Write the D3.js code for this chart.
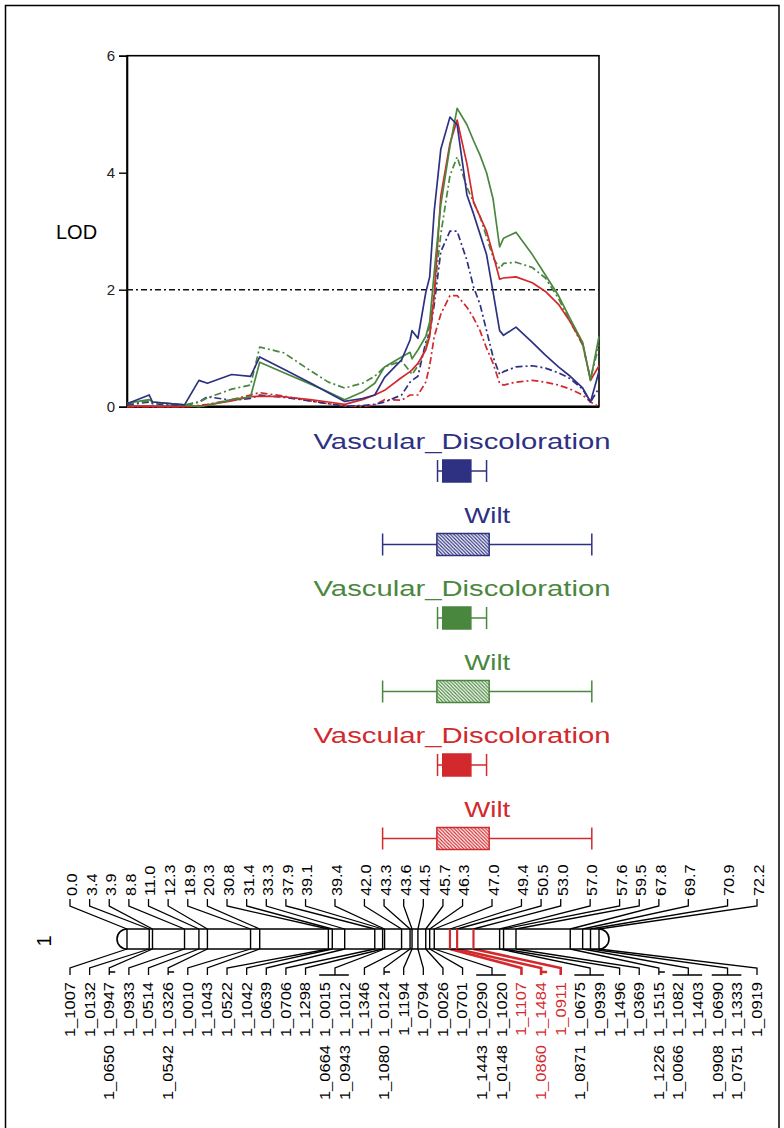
<!DOCTYPE html>
<html>
<head>
<meta charset="utf-8">
<script src="https://cdn.jsdelivr.net/npm/d3@7"></script>
<style>
  html, body { margin: 0; padding: 0; background: #fff; }
  svg { display: block; font-family: "Liberation Sans", Arial, sans-serif; }
</style>
</head>
<body>
<script>
// ---- LOD profiles along linkage group 1 (cM grid) ----
const grid = [0, 3.4, 3.9, 8.8, 11.0, 12.3, 16, 18.9, 20.3, 24, 28, 30.8, 33.3, 36, 37.9, 39.4,
  42.0, 43.3, 43.6, 44.5, 45.7, 46.3, 47.0, 48, 49.4, 50.5, 52, 53.0, 54, 55, 56, 57.0, 57.6,
  59.5, 62, 64, 66, 67.8, 69.7, 70.9, 72.2];

const vdNavy = [0.05, 0.2, 0.08, 0.03, 0.45, 0.4, 0.55, 0.52, 0.85, 0.64, 0.41, 0.24, 0.09, 0.14, 0.2, 0.5,
  0.8, 1.14, 1.3, 1.17, 1.95, 2.22, 3.35, 4.4, 4.95, 4.82, 3.62, 3.3, 2.95, 2.6, 1.96, 1.3, 1.22,
  1.36, 1.1, 0.88, 0.68, 0.52, 0.32, 0.08, 0.6];
const wiltNavy = [0.03, 0.08, 0.05, 0.02, 0.08, 0.17, 0.11, 0.14, 0.2, 0.16, 0.1, 0.05, 0.01, 0.02, 0.04, 0.08,
  0.2, 0.42, 0.45, 0.52, 1.1, 1.25, 1.75, 2.65, 3.0, 3.0, 2.5, 2.05, 1.75, 1.3, 0.85, 0.55, 0.6,
  0.68, 0.7, 0.66, 0.58, 0.48, 0.3, 0.08, 0.32];
const vdGreen = [0.06, 0.12, 0.08, 0.03, 0.0, 0.02, 0.12, 0.17, 0.76, 0.58, 0.39, 0.25, 0.12, 0.25, 0.4, 0.68,
  0.85, 0.93, 0.82, 0.97, 1.2, 1.45, 2.3, 3.45, 4.45, 5.1, 4.82, 4.55, 4.3, 4.0, 3.55, 2.73, 2.88,
  2.98, 2.6, 2.25, 1.9, 1.5, 1.1, 0.45, 1.2];
const wiltGreen = [0.05, 0.1, 0.07, 0.03, 0.08, 0.15, 0.3, 0.37, 1.02, 0.92, 0.62, 0.42, 0.32, 0.4, 0.52, 0.68,
  0.78, 0.6, 0.55, 0.7, 1.0, 1.4, 1.95, 2.95, 3.95, 4.27, 3.75, 3.5, 3.25, 2.9, 2.55, 2.36, 2.45,
  2.47, 2.38, 2.2, 1.85, 1.45, 1.05, 0.48, 1.05];
const vdRed = [0.0, 0.01, 0.0, 0.0, 0.01, 0.03, 0.1, 0.17, 0.18, 0.17, 0.12, 0.08, 0.04, 0.12, 0.2, 0.28,
  0.5, 0.6, 0.63, 0.74, 0.97, 1.2, 1.9, 3.6, 4.5, 4.9, 4.15, 3.5, 3.25, 3.0, 2.6, 2.18, 2.2,
  2.22, 2.12, 1.97, 1.75, 1.45, 1.08, 0.45, 0.7];
const wiltRed = [0.0, 0.0, 0.0, 0.0, 0.02, 0.04, 0.12, 0.2, 0.24, 0.18, 0.1, 0.05, 0.01, 0.0, 0.03, 0.12,
  0.11, 0.2, 0.2, 0.2, 0.42, 0.7, 1.2, 1.58, 1.9, 1.9, 1.7, 1.52, 1.3, 1.0, 0.74, 0.4, 0.37,
  0.42, 0.45, 0.42, 0.37, 0.3, 0.2, 0.08, 0.0];

const lodTicks = [0, 2, 4, 6];
const lodThreshold = 2;

// ---- QTL support intervals (cM): [2-LOD lo, 1-LOD lo, 1-LOD hi, 2-LOD hi] ----
const qtlTraits = ["Vascular_Discoloration", "Wilt"];
const vdInterval = [47.5, 48.3, 52.6, 55.0];
const wiltInterval = [39.1, 47.4, 55.4, 71.1];
const groupColors = ["#2e3182", "#4a873e", "#d2292d"];

// ---- Linkage map: positions (cM) and the markers at each, by label column ----
const positions = [0.0, 3.4, 3.9, 8.8, 11.0, 12.3, 18.9, 20.3, 30.8, 31.4, 33.3, 37.9, 39.1, 39.4, 42.0,
  43.3, 43.6, 44.5, 45.7, 46.3, 47.0, 49.4, 50.5, 53.0, 57.0, 57.6, 59.5, 67.8, 69.7, 70.9, 72.2];
const markers = [
  [["1_1007"]], [["1_0132"]], [["1_0947", "1_0650"]], [["1_0933"]], [["1_0514"]],
  [["1_0326", "1_0542"]], [["1_0010"]], [["1_1043"]], [["1_0522"]], [["1_1042"]],
  [["1_0639"]], [["1_0706"]], [["1_1298"]], [["1_0015", "1_0664"], ["1_1012", "1_0943"]],
  [["1_1346"]], [["1_0124", "1_1080"]], [["1_1194"]], [["1_0794"]], [["1_0026"]], [["1_0701"]],
  [["1_0290", "1_1443"], ["1_1020", "1_0148"]], [["1_1107"]], [["1_1484", "1_0860"]], [["1_0911"]],
  [["1_0675", "1_0871"], ["1_0939"]], [["1_1496"]], [["1_0369"]], [["1_1515", "1_1226"]],
  [["1_1082", "1_0066"], ["1_1403"]], [["1_0690", "1_0908"], ["1_1333", "1_0751"]], [["1_0919"]]
];
const highlighted = [49.4, 50.5, 53.0];
const chromosomeName = "1";

// ---------------------------------------------------------------
const W = 784, H = 1128;
const svg = d3.select("body").append("svg").attr("width", W).attr("height", H);
const FONT = "'Liberation Sans', Arial, sans-serif";

// outer frame
svg.append("rect").attr("x", 5.5).attr("y", 5.5).attr("width", 773.5).attr("height", 1200)
  .attr("fill", "none").attr("stroke", "#000").attr("stroke-width", 1.5);

// shared cM scale for LOD panel, QTL bars and the chromosome
const x = d3.scaleLinear().domain([0, 72.2]).range([127, 599]);
const y = d3.scaleLinear().domain([0, 6]).range([406.7, 55.7]);

// ---- LOD panel ----
const plot = svg.append("g");
plot.append("rect").attr("x", x(0)).attr("y", y(6)).attr("width", x(72.2) - x(0)).attr("height", y(0) - y(6))
  .attr("fill", "none").attr("stroke", "#000").attr("stroke-width", 1.6);
plot.append("line").attr("x1", x(0)).attr("x2", x(72.2)).attr("y1", y(0)).attr("y2", y(0))
  .attr("stroke", "#000").attr("stroke-width", 2.4);

const yAxis = d3.axisLeft(y).tickValues(lodTicks).tickSize(8).tickPadding(4).tickFormat(d3.format("d"));
const ya = plot.append("g").attr("transform", `translate(${x(0)},0)`).call(yAxis);
ya.select(".domain").attr("stroke", "#000").attr("stroke-width", 1.6);
ya.selectAll(".tick line").attr("stroke", "#000").attr("stroke-width", 1.4);
ya.selectAll(".tick text").attr("font-size", 15).attr("font-family", FONT).attr("fill", "#222");

svg.append("text").attr("x", 56).attr("y", 232).attr("dy", "0.35em")
  .attr("font-family", FONT).attr("font-size", 20).attr("fill", "#000").text("LOD");

plot.append("line").attr("x1", x(0)).attr("x2", x(72.2))
  .attr("y1", y(lodThreshold)).attr("y2", y(lodThreshold))
  .attr("stroke", "#111").attr("stroke-width", 1.6).attr("stroke-dasharray", "6,3,2,3");

const line = d3.line().x((d, i) => x(grid[i])).y(d => y(d));
const curves = [
  { v: wiltRed, c: groupColors[2], dash: true },
  { v: wiltNavy, c: groupColors[0], dash: true },
  { v: wiltGreen, c: groupColors[1], dash: true },
  { v: vdRed, c: groupColors[2], dash: false },
  { v: vdGreen, c: groupColors[1], dash: false },
  { v: vdNavy, c: groupColors[0], dash: false }
];
plot.selectAll("path.lod").data(curves).join("path").attr("class", "lod")
  .attr("d", d => line(d.v)).attr("fill", "none").attr("stroke", d => d.c)
  .attr("stroke-width", 1.7).attr("stroke-linejoin", "round")
  .attr("stroke-dasharray", d => d.dash ? "7,3,2,3" : null);

// ---- QTL interval bars ----
const defs = svg.append("defs");
groupColors.forEach((c, i) => {
  const p = defs.append("pattern").attr("id", "hatch" + i).attr("patternUnits", "userSpaceOnUse")
    .attr("width", 3.5).attr("height", 3.5);
  p.append("rect").attr("width", 3.5).attr("height", 3.5).attr("fill", "#fff");
  p.append("path").attr("d", "M-1,-1 L4.5,4.5 M-1,2.5 L1,4.5 M2.5,-1 L4.5,1")
    .attr("stroke", c).attr("stroke-width", 1.2);
});

const rowStep = 73.5, firstBaseline = 449, boxH = 22;
const rows = [];
groupColors.forEach((c, gi) => {
  qtlTraits.forEach((t, ti) => rows.push({ trait: t, color: c, gi, iv: ti === 0 ? vdInterval : wiltInterval, hatched: ti === 1 }));
});
const q = svg.append("g");
rows.forEach((r, k) => {
  const base = firstBaseline + k * rowStep;
  const cy = base + 22;
  const [a2, a1, b1, b2] = r.iv.map(x);
  const g = q.append("g");
  const titleW = r.trait === "Wilt" ? 46 : 297;
  g.append("text").attr("x", (a2 + b2) / 2).attr("y", base).attr("text-anchor", "middle")
    .attr("font-family", FONT).attr("font-size", 22).attr("fill", r.color)
    .attr("textLength", titleW).attr("lengthAdjust", "spacingAndGlyphs").text(r.trait);
  g.append("line").attr("x1", a2).attr("x2", b2).attr("y1", cy).attr("y2", cy)
    .attr("stroke", r.color).attr("stroke-width", 1.5);
  [a2, b2].forEach(xx => g.append("line").attr("x1", xx).attr("x2", xx)
    .attr("y1", cy - boxH / 2).attr("y2", cy + boxH / 2).attr("stroke", r.color).attr("stroke-width", 1.5));
  g.append("rect").attr("x", a1).attr("y", cy - boxH / 2).attr("width", b1 - a1).attr("height", boxH)
    .attr("fill", r.hatched ? `url(#hatch${r.gi})` : r.color)
    .attr("stroke", r.color).attr("stroke-width", 1.5);
});

// ---- Chromosome / linkage map ----
const barTop = 929, barBot = 949, capR = 10;
const nCols = d3.sum(markers, m => m.length);
const col = d3.scaleLinear().domain([0, nCols - 1]).range([70, 757]);
const map = svg.append("g");
const isHi = p => highlighted.includes(p);

// label column layout for every position
let ci = 0;
const groups = positions.map((p, i) => {
  const cols = markers[i].map((names, j) => ({ x: col(ci + j), names }));
  ci += markers[i].length;
  return { pos: p, cols, cx: d3.mean(cols, c => c.x), hi: isHi(p) };
});

// connectors (black first, highlighted on top)
const conn = map.append("g");
const ordered = groups.filter(g => !g.hi).concat(groups.filter(g => g.hi));
ordered.forEach(g => {
  const mx = x(g.pos);
  const stroke = g.hi ? groupColors[2] : "#000";
  const sw = g.hi ? 2.6 : 1.3;
  conn.append("path").attr("d", `M${g.cx},899 V906 L${mx},${barTop}`)
    .attr("fill", "none").attr("stroke", "#000").attr("stroke-width", 1.3);
  let d = `M${mx},${barBot} L${g.cx},968 V975`;
  if (g.cols.length > 1) d += ` M${g.cols[0].x - 6},975 H${g.cols[g.cols.length - 1].x + 4}`;
  else if (g.cols[0].names.length > 1) d += ` M${g.cx},972 H${g.cx + 6}`;
  conn.append("path").attr("d", d).attr("fill", "none").attr("stroke", stroke).attr("stroke-width", sw);
});

// chromosome body with rounded ends
map.append("path")
  .attr("d", `M${x(0)},${barTop} H${x(72.2)} A${capR},${capR} 0 0 1 ${x(72.2)},${barBot} H${x(0)} A${capR},${capR} 0 0 1 ${x(0)},${barTop} Z`)
  .attr("fill", "#fff").attr("stroke", "#000").attr("stroke-width", 1.6);
groups.filter(g => !g.hi).concat(groups.filter(g => g.hi)).forEach(g => {
  map.append("line").attr("x1", x(g.pos)).attr("x2", x(g.pos)).attr("y1", barTop).attr("y2", barBot)
    .attr("stroke", g.hi ? groupColors[2] : "#000").attr("stroke-width", g.hi ? 2.2 : 1.4);
});

// position labels (top)
groups.forEach(g => {
  map.append("text").attr("transform", `translate(${g.cx + 2},896) rotate(-90) scale(1.16,1)`)
    .attr("dy", "0.35em").attr("text-anchor", "start")
    .attr("font-family", FONT).attr("font-size", 14).attr("fill", "#000")
    .text(g.pos.toFixed(1));
});

// marker names (bottom, two rows)
const rowEnds = [982, 1045];
groups.forEach(g => {
  g.cols.forEach(c => {
    c.names.forEach((n, r) => {
      map.append("text").attr("transform", `translate(${c.x},${rowEnds[r]}) rotate(-90) scale(1.18,1)`)
        .attr("dy", "0.35em").attr("text-anchor", "end")
        .attr("font-family", FONT).attr("font-size", 14)
        .attr("fill", g.hi ? groupColors[2] : "#000").text(n);
    });
  });
});

svg.append("text").attr("transform", "translate(44,941) rotate(-90)").attr("dy", "0.35em")
  .attr("text-anchor", "middle").attr("font-family", FONT).attr("font-size", 20).text(chromosomeName);
</script>
</body>
</html>
